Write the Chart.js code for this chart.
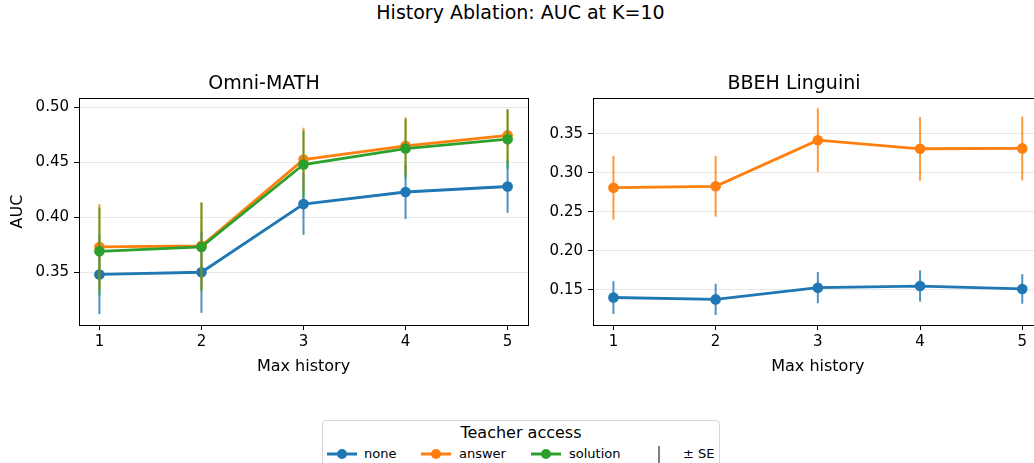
<!DOCTYPE html>
<html>
<head>
<meta charset="utf-8">
<script src="https://cdn.jsdelivr.net/npm/chart.js@4/dist/chart.umd.min.js"></script>
<style>
  html, body { margin: 0; padding: 0; overflow: hidden; background: #fff; }
  body { width: 1034px; height: 463px; position: relative; font-family: "DejaVu Sans", sans-serif; color: #000; }
  #title { position: absolute; left: 0; top: 1px; width: 1041px; text-align: center; font-size: 19px; line-height: 22px; }
  #omni { position: absolute; left: 0; top: 70px; }
  #ling { position: absolute; left: 540px; top: 70px; }
  #legend { position: absolute; left: 322px; top: 420px; width: 396px; height: 60px; border: 1px solid #d6d6d6; border-radius: 4px; background: #fff; }
  #legend .ttl { position: absolute; left: 0; width: 100%; top: 2px; text-align: center; font-size: 16px; line-height: 20px; }
  #legend .item { position: absolute; top: 25px; font-size: 13px; line-height: 16px; white-space: nowrap; }
  #legend svg { position: absolute; top: 25px; }
</style>
</head>
<body>
<div id="title">History Ablation: AUC at K=10</div>
<canvas id="omni" width="540" height="310"></canvas>
<canvas id="ling" width="508" height="310"></canvas>
<div id="legend">
  <div class="ttl">Teacher access</div>
  <svg style="left:3px" width="32" height="16"><line x1="1" y1="8" x2="31" y2="8" stroke="#1f77b4" stroke-width="3"/><circle cx="16" cy="8" r="5" fill="#1f77b4"/></svg>
  <div class="item" style="left:41px">none</div>
  <svg style="left:97px" width="32" height="16"><line x1="1" y1="8" x2="31" y2="8" stroke="#ff7f0e" stroke-width="3"/><circle cx="16" cy="8" r="5" fill="#ff7f0e"/></svg>
  <div class="item" style="left:136px">answer</div>
  <svg style="left:207px" width="32" height="16"><line x1="1" y1="8" x2="31" y2="8" stroke="#2ca02c" stroke-width="3"/><circle cx="16" cy="8" r="5" fill="#2ca02c"/></svg>
  <div class="item" style="left:246px">solution</div>
  <svg style="left:330px" width="12" height="20"><line x1="6" y1="0" x2="6" y2="18" stroke="#555" stroke-width="1.5"/></svg>
  <div class="item" style="left:360px">± SE</div>
</div>
<script>
// x categories
const histories = [1, 2, 3, 4, 5];

// Omni-MATH AUC and standard errors
const omniNone = [0.348, 0.350, 0.412, 0.423, 0.428];
const omniNoneSE = [0.036, 0.037, 0.028, 0.0245, 0.024];
const omniAnswer = [0.373, 0.374, 0.4525, 0.465, 0.4745];
const omniAnswerSE = [0.039, 0.040, 0.029, 0.026, 0.024];
const omniSolution = [0.369, 0.373, 0.448, 0.4625, 0.471];
const omniSolutionSE = [0.040, 0.040, 0.031, 0.027, 0.027];

// BBEH Linguini AUC and standard errors
const lingNone = [0.140, 0.1376, 0.1526, 0.1547, 0.151];
const lingNoneSE = [0.021, 0.020, 0.020, 0.020, 0.019];
const lingAnswer = [0.281, 0.2828, 0.342, 0.331, 0.3315];
const lingAnswerSE = [0.041, 0.039, 0.041, 0.041, 0.041];

const omniTicks = [0.35, 0.40, 0.45, 0.50];
const lingTicks = [0.15, 0.20, 0.25, 0.30, 0.35];

Chart.defaults.font.family = "DejaVu Sans";
Chart.defaults.color = "#000";

var colors = { none: "#1f77b4", answer: "#ff7f0e", solution: "#2ca02c" };

// draws the +/- SE bars right before each line so later series sit on top
var errorBars = {
  id: "errorBars",
  beforeDatasetDraw(chart, args) {
    var ds = chart.data.datasets[args.index];
    if (!ds.se) return;
    var ctx = chart.ctx, xs = chart.scales.x, ys = chart.scales.y;
    ctx.save();
    ctx.strokeStyle = ds.borderColor;
    ctx.globalAlpha = 0.8;
    ctx.lineWidth = 2;
    ds.data.forEach((p, i) => {
      var x = xs.getPixelForValue(p.x);
      ctx.beginPath();
      ctx.moveTo(x, ys.getPixelForValue(p.y - ds.se[i]));
      ctx.lineTo(x, ys.getPixelForValue(p.y + ds.se[i]));
      ctx.stroke();
    });
    ctx.restore();
  }
};

var frame = {
  id: "frame",
  afterDraw(chart) {
    var a = chart.chartArea, ctx = chart.ctx;
    ctx.save();
    ctx.strokeStyle = "#000";
    ctx.lineWidth = 1;
    ctx.strokeRect(Math.round(a.left) + 0.5, Math.round(a.top) + 0.5, Math.round(a.right - a.left), Math.round(a.bottom - a.top));
    ctx.restore();
  }
};

function series(name, values, se, order) {
  return {
    label: name,
    data: histories.map((h, i) => ({ x: h, y: values[i] })),
    se: se,
    order: order,
    borderColor: colors[name],
    backgroundColor: colors[name],
    pointBackgroundColor: colors[name],
    pointBorderWidth: 0,
    pointRadius: 5.3,
    borderWidth: 2.8,
    tension: 0
  };
}

function makeChart(id, title, datasets, yMin, yMax, yTicks, yWidth, rightPad, showYTitle) {
  return new Chart(document.getElementById(id), {
    type: "line",
    data: { datasets: datasets },
    options: {
      responsive: false,
      animation: false,
      layout: { padding: { left: 0, right: rightPad, top: 0, bottom: 0 } },
      plugins: {
        legend: { display: false },
        tooltip: { enabled: false },
        title: { display: true, text: title, color: "#000", font: { size: 19, weight: "normal" }, padding: { top: 2.2, bottom: 3 } }
      },
      scales: {
        x: {
          type: "linear", min: 0.8, max: 5.2,
          afterBuildTicks: s => { s.ticks = histories.map(v => ({ value: v })); },
          afterFit: s => { s.height = 55; },
          grid: { drawOnChartArea: false, tickLength: 5, tickColor: "#000" },
          border: { display: false },
          ticks: { font: { size: 15 }, padding: 3, callback: v => String(v) },
          title: { display: true, text: "Max history", font: { size: 16 }, padding: { top: 0, bottom: 4 } }
        },
        y: {
          min: yMin, max: yMax,
          afterBuildTicks: s => { s.ticks = yTicks.map(v => ({ value: v })); },
          afterFit: s => { s.width = yWidth; },
          grid: { color: "#e8e8e8", tickLength: 5, tickColor: "#000" },
          border: { display: false },
          ticks: { font: { size: 15 }, padding: 5, callback: v => v.toFixed(2) },
          title: { display: showYTitle, text: "AUC", font: { size: 16 }, padding: { top: 8.4, bottom: 0 } }
        }
      }
    },
    plugins: [errorBars, frame]
  });
}

makeChart("omni", "Omni-MATH", [
  series("none", omniNone, omniNoneSE, 3),
  series("answer", omniAnswer, omniAnswerSE, 2),
  series("solution", omniSolution, omniSolutionSE, 1)
], 0.302, 0.5085, omniTicks, 79, 12, true);

makeChart("ling", "BBEH Linguini", [
  series("none", lingNone, lingNoneSE, 2),
  series("answer", lingAnswer, lingAnswerSE, 1)
], 0.1047, 0.3962, lingTicks, 53, 0, false);
</script>
</body>
</html>
